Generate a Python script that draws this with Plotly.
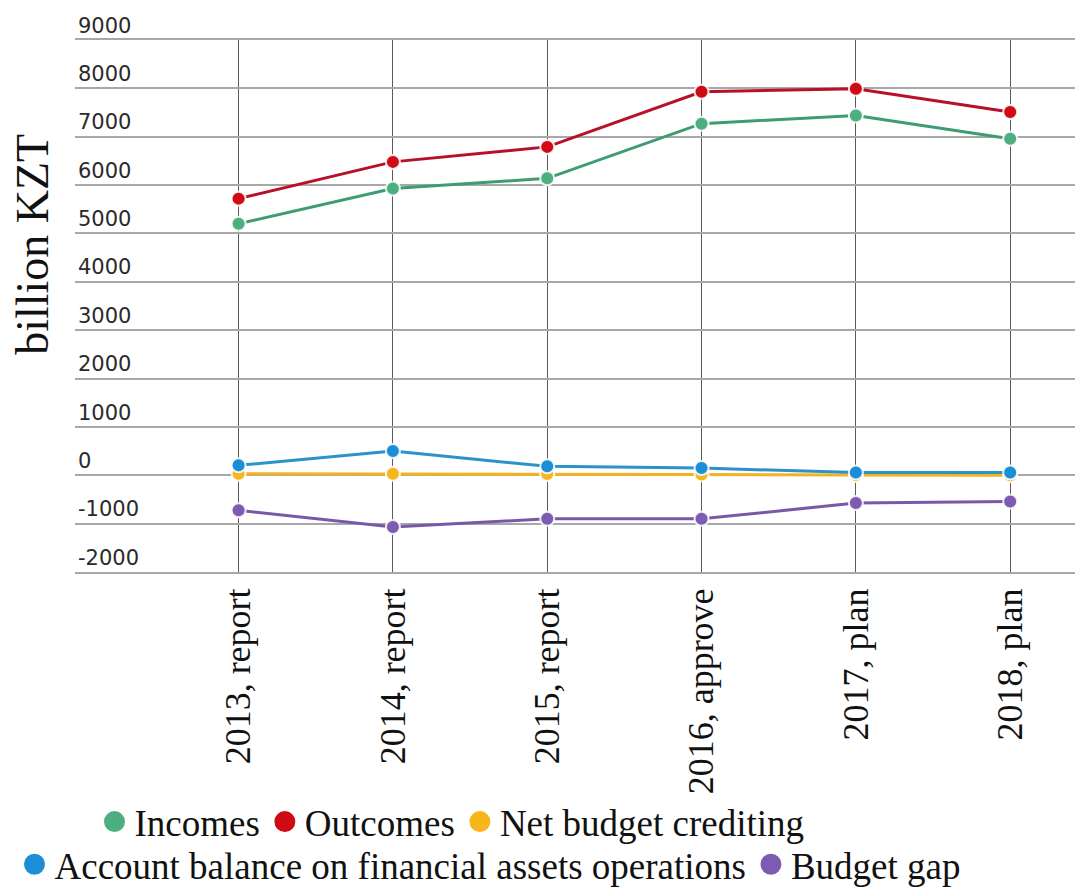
import plotly.graph_objects as go

categories = ["2013, report", "2014, report", "2015, report", "2016, approve", "2017, plan", "2018, plan"]
incomes = [5200, 5930, 6140, 7270, 7440, 6960]
outcomes = [5720, 6480, 6790, 7930, 7990, 7510]
net_crediting = [30, 30, 25, 15, 5, 0]
account_balance = [205, 500, 185, 150, 55, 55]
budget_gap = [-725, -1070, -900, -900, -575, -540]

y_tick_vals = [-2000, -1000, 0, 1000, 2000, 3000, 4000, 5000, 6000, 7000, 8000, 9000]
y_tick_text = ["-2000", "-1000", "0", "1000", "2000", "3000", "4000", "5000", "6000", "7000", "8000", "9000"]

series = [
    ("Incomes", incomes, "#3f9c72", "#4caf7f", "legend"),
    ("Outcomes", outcomes, "#b8102a", "#d00a14", "legend"),
    ("Net budget crediting", net_crediting, "#f2b320", "#f6b61c", "legend"),
    ("Account balance on financial assets operations", account_balance, "#2a93c8", "#1b8fd6", "legend2"),
    ("Budget gap", budget_gap, "#7a58a8", "#7d5bb3", "legend2"),
]

fig = go.Figure()
for name, vals, lc, mc, lg in series:
    fig.add_trace(go.Scatter(
        x=categories, y=vals, name=name, mode="lines+markers",
        line=dict(color=lc, width=3),
        marker=dict(color=mc, size=14, line=dict(color="rgba(255,255,255,0.85)", width=2)),
        showlegend=False, cliponaxis=False,
    ))
    fig.add_trace(go.Scatter(
        x=[None], y=[None], name=name, mode="markers",
        marker=dict(color=mc, size=16, line=dict(color=mc, width=5)),
        legend=lg, showlegend=True,
    ))

legend_font = dict(family="Liberation Serif", size=37, color="#111")

fig.update_layout(
    width=1079, height=888,
    margin=dict(l=75, r=4, t=40, b=316, autoexpand=False),
    plot_bgcolor="white", paper_bgcolor="white",
    xaxis=dict(
        range=[-1.06, 5.42], showgrid=True, gridcolor="#5a5a5a", gridwidth=1,
        showline=True, mirror=True, linecolor="#a8a8a8", linewidth=2,
        zeroline=False, ticks="", tickangle=-90, ticklabelstandoff=0,
        automargin=False,
        tickfont=dict(family="Liberation Serif", size=36, color="#111"),
    ),
    yaxis=dict(
        range=[-2000, 9000], tickvals=y_tick_vals, ticktext=y_tick_text,
        showgrid=True, gridcolor="#a8a8a8", gridwidth=2,
        zeroline=False, showline=False, ticks="", automargin=False,
        ticklabelposition="inside top", ticklabeloverflow="allow",
        tickfont=dict(family="DejaVu Sans", size=21, color="#2a2a2a"),
    ),
    legend=dict(
        orientation="h", x=0.377, xanchor="center",
        yref="container", y=0.0743, yanchor="middle",
        font=legend_font, itemwidth=30, tracegroupgap=0, bgcolor="rgba(0,0,0,0)",
    ),
    legend2=dict(
        orientation="h", x=0.415, xanchor="center",
        yref="container", y=0.0262, yanchor="middle",
        font=legend_font, itemwidth=30, tracegroupgap=0, bgcolor="rgba(0,0,0,0)",
    ),
    annotations=[dict(
        text="billion KZT", textangle=-90, xref="paper", yref="paper",
        x=-0.042, y=0.615, xanchor="center", yanchor="middle", showarrow=False,
        font=dict(family="Liberation Serif", size=46, color="#111"),
    )],
)

fig.write_html("out.html")
